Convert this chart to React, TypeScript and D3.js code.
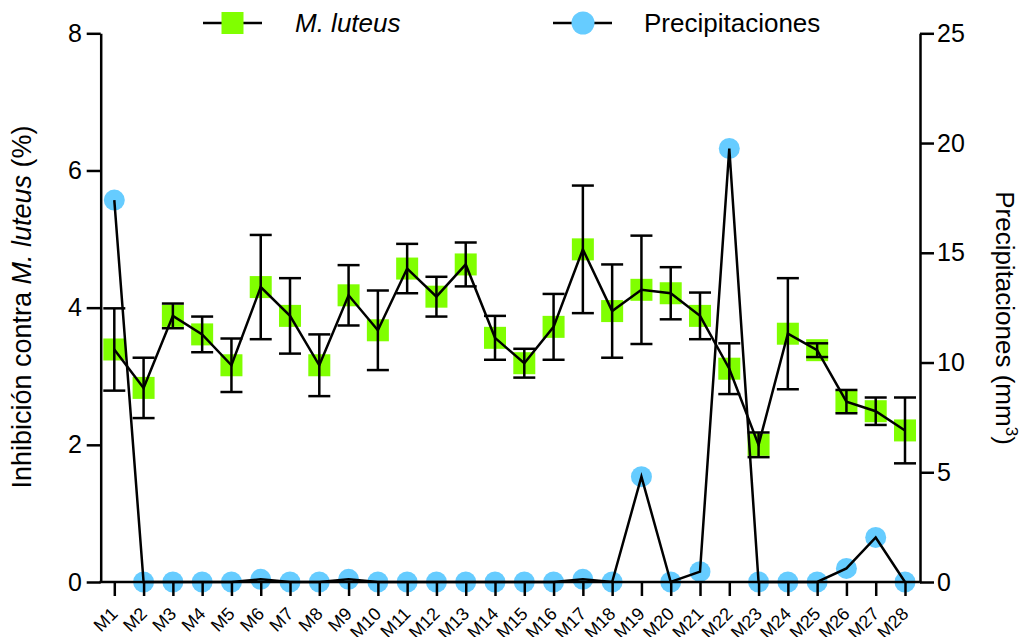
import React, { useEffect, useRef } from "react";
import * as d3 from "d3";

// categories
const muestras = [
  "M1", "M2", "M3", "M4", "M5", "M6", "M7", "M8", "M9", "M10",
  "M11", "M12", "M13", "M14", "M15", "M16", "M17", "M18", "M19", "M20",
  "M21", "M22", "M23", "M24", "M25", "M26", "M27", "M28",
];

// inhibicion contra M. luteus (%) : media y desviacion
const inhibicion = [
  3.39, 2.83, 3.88, 3.61, 3.16, 4.30, 3.88, 3.16, 4.18, 3.67,
  4.57, 4.16, 4.63, 3.56, 3.19, 3.72, 4.85, 3.95, 4.26, 4.21,
  3.88, 3.11, 2.00, 3.62, 3.38, 2.63, 2.49, 2.21,
];
const desviacion = [
  0.60, 0.44, 0.18, 0.26, 0.39, 0.76, 0.55, 0.45, 0.44, 0.58,
  0.36, 0.29, 0.32, 0.32, 0.21, 0.48, 0.93, 0.68, 0.79, 0.38,
  0.34, 0.37, 0.18, 0.81, 0.10, 0.17, 0.20, 0.48,
];

// precipitaciones (mm3)
const precipitaciones = [
  17.4, 0, 0, 0, 0, 0.12, 0, 0, 0.12, 0,
  0, 0, 0, 0, 0, 0, 0.12, 0, 4.8, 0,
  0.47, 19.75, 0, 0, 0, 0.62, 2.03, 0,
];

const ticksIzq = [0, 2, 4, 6, 8];
const ticksDer = [0, 5, 10, 15, 20, 25];

const VERDE = "#80ff00";
const AZUL = "#66ccff";
const FUENTE = "'Liberation Sans', Arial, Helvetica, sans-serif";
const SW = 2.5;

const App = () => {
  const svgRef = useRef<SVGSVGElement>(null);

  useEffect(() => {
    const svg = d3.select(svgRef.current);
    svg.selectAll("*").remove();

    const left = 100.7;
    const right = 920;
    const top = 33.3;
    const bottom = 582;

    const x = d3.scalePoint<string>().domain(muestras).range([114.3, 905]);
    const yL = d3.scaleLinear().domain([0, 8]).range([bottom, top]);
    const yR = d3.scaleLinear().domain([0, 25]).range([bottom, top]);

    const g = svg.append("g").attr("font-family", FUENTE);

    // markers first, lines over them
    g.selectAll(".sq")
      .data(muestras)
      .enter().append("rect")
      .attr("x", d => x(d)! - 11)
      .attr("y", (d, i) => yL(inhibicion[i]) - 11)
      .attr("width", 22)
      .attr("height", 22)
      .attr("fill", VERDE);

    g.selectAll(".dot")
      .data(muestras)
      .enter().append("circle")
      .attr("cx", d => x(d)!)
      .attr("cy", (d, i) => yR(precipitaciones[i]))
      .attr("r", 10.5)
      .attr("fill", AZUL);

    // error bars
    const eb = g.append("g").attr("stroke", "#000").attr("stroke-width", SW);
    muestras.forEach((m, i) => {
      const cx = x(m)!;
      const y1 = yL(inhibicion[i] + desviacion[i]);
      const y2 = yL(inhibicion[i] - desviacion[i]);
      eb.append("line").attr("x1", cx).attr("x2", cx).attr("y1", y1).attr("y2", y2);
      eb.append("line").attr("x1", cx - 11).attr("x2", cx + 11).attr("y1", y1).attr("y2", y1);
      eb.append("line").attr("x1", cx - 11).attr("x2", cx + 11).attr("y1", y2).attr("y2", y2);
    });

    const lineL = d3.line<number>()
      .x((d, i) => x(muestras[i])!)
      .y(d => yL(d));
    const lineR = d3.line<number>()
      .x((d, i) => x(muestras[i])!)
      .y(d => yR(d));

    g.append("path")
      .datum(inhibicion)
      .attr("fill", "none")
      .attr("stroke", "#000")
      .attr("stroke-width", SW)
      .attr("d", lineL);

    g.append("path")
      .datum(precipitaciones)
      .attr("fill", "none")
      .attr("stroke", "#000")
      .attr("stroke-width", SW)
      .attr("d", lineR);

    // axes
    const axL = g.append("g")
      .attr("transform", `translate(${left},0)`)
      .call(d3.axisLeft(yL).tickValues(ticksIzq).tickSize(14).tickSizeOuter(0).tickPadding(4.7).tickFormat(d3.format("d")));
    const axR = g.append("g")
      .attr("transform", `translate(${right},0)`)
      .call(d3.axisRight(yR).tickValues(ticksDer).tickSize(14).tickSizeOuter(0).tickPadding(3).tickFormat(d3.format("d")));
    [axL, axR].forEach(ax => {
      ax.selectAll("path, line").attr("stroke", "#000").attr("stroke-width", SW);
      ax.selectAll("text")
        .attr("font-size", "25px")
        .attr("font-family", FUENTE)
        .attr("fill", "#000");
    });

    g.append("line")
      .attr("x1", left - 1.25)
      .attr("x2", right + 1.25)
      .attr("y1", bottom)
      .attr("y2", bottom)
      .attr("stroke", "#000")
      .attr("stroke-width", SW);

    const axB = g.append("g")
      .attr("transform", `translate(0,${bottom})`)
      .call(d3.axisBottom(x).tickSize(14).tickSizeOuter(0));
    axB.select(".domain").remove();
    axB.selectAll("line").attr("stroke", "#000").attr("stroke-width", SW);
    axB.selectAll("text")
      .attr("x", 0)
      .attr("y", 0)
      .attr("dy", 0)
      .attr("transform", "translate(4,33) rotate(-45)")
      .attr("text-anchor", "end")
      .attr("font-size", "18px")
      .attr("font-family", FUENTE)
      .attr("fill", "#000");

    // axis titles
    const tL = g.append("text")
      .attr("transform", `translate(31,307) rotate(-90)`)
      .attr("text-anchor", "middle")
      .attr("font-size", "27px")
      .attr("fill", "#000");
    tL.append("tspan").text("Inhibición contra ");
    tL.append("tspan").attr("font-style", "italic").text("M. luteus");
    tL.append("tspan").text(" (%)");

    const tR = g.append("text")
      .attr("transform", `translate(996,318) rotate(90)`)
      .attr("text-anchor", "middle")
      .attr("font-size", "26px")
      .attr("fill", "#000");
    tR.append("tspan").text("Precipitaciones (mm");
    tR.append("tspan").attr("font-size", "17px").attr("dy", -10).text("3");
    tR.append("tspan").attr("dy", 10).text(")");

    // legend
    const lg = g.append("g");
    lg.append("line").attr("x1", 203).attr("x2", 262).attr("y1", 23).attr("y2", 23)
      .attr("stroke", "#000").attr("stroke-width", SW);
    lg.append("rect").attr("x", 221.5).attr("y", 12).attr("width", 22).attr("height", 22).attr("fill", VERDE);
    lg.append("text").attr("x", 295).attr("y", 32).attr("font-size", "26px")
      .attr("font-style", "italic").attr("fill", "#000").text("M. luteus");

    lg.append("line").attr("x1", 553).attr("x2", 612).attr("y1", 23).attr("y2", 23)
      .attr("stroke", "#000").attr("stroke-width", SW);
    lg.append("circle").attr("cx", 583).attr("cy", 23).attr("r", 11.5).attr("fill", AZUL);
    lg.append("text").attr("x", 644).attr("y", 32).attr("font-size", "26px")
      .attr("fill", "#000").text("Precipitaciones");
  }, []);

  return (
    <svg
      ref={svgRef}
      width={1023}
      height={637}
      style={{ position: "absolute", left: 0, top: 0, background: "#fff" }}
    />
  );
};

export default App;
